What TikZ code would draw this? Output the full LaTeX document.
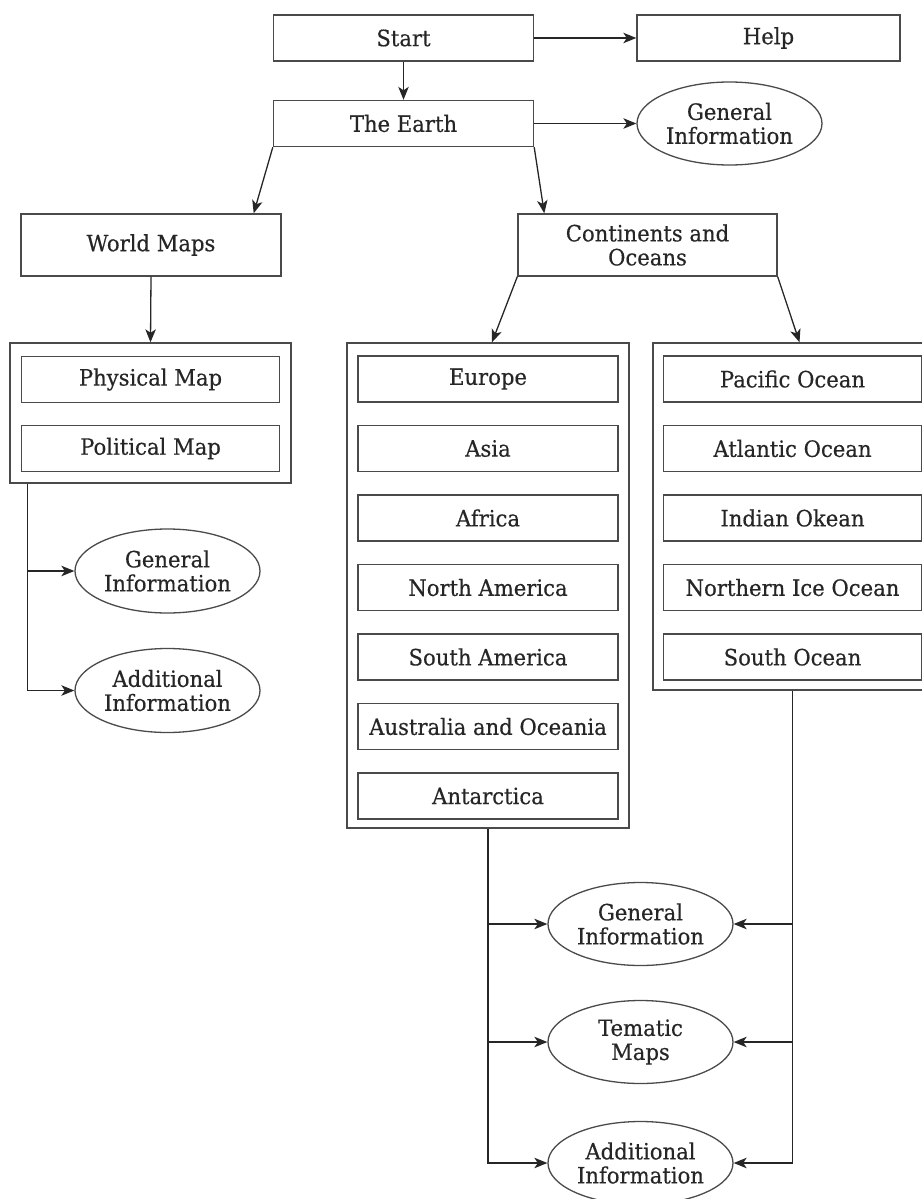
\documentclass[tikz,border=0pt]{standalone}
\usepackage{fontspec}
\setmainfont{DejaVu Serif}[FakeStretch=0.94,FakeBold=0.4]
\usetikzlibrary{arrows.meta,shapes.geometric,calc}
\definecolor{ink}{HTML}{262626}
\definecolor{edge}{HTML}{4A4A4A}
\begin{document}
\begin{tikzpicture}[x=1pt,y=-1pt,
  every node/.style={font=\fontsize{22.5}{24}\selectfont, text=ink, inner sep=0pt},
  box/.style={draw=edge, line width=1.4pt, rectangle, minimum width=260pt, minimum height=46pt, align=center},
  tallbox/.style={box, minimum height=62pt},
  grp/.style={draw=edge, line width=1.4pt, rectangle},
  oval/.style={draw=edge, line width=1.3pt, ellipse, minimum width=185pt, minimum height=83pt, align=center},
  arr/.style={draw=ink, line width=1.3pt, -{Stealth[length=13pt,width=10.5pt,inset=3.5pt]}}]
\useasboundingbox (0,0) rectangle (921,1199);

% top
\node[box] (start) at (403.5,38) {Start};
\node[box, minimum width=263pt] (help) at (768.5,38) {Help};
\node[box] (earth) at (403.5,123.5) {The Earth};
\node[oval] (gi0) at (729.5,123.5) {General\\Information};

\node[tallbox] (world) at (151,245) {World Maps};
\node[tallbox, minimum width=259pt] (cont) at (647.5,245) {Continents and\\Oceans};

% left group
\node[grp, minimum width=281pt, minimum height=140pt] (lgrp) at (150.5,413) {};
\node[box, minimum width=258pt] (phys) at (150.5,379.5) {Physical Map};
\node[box, minimum width=258pt] (polit) at (150.5,448.5) {Political Map};

\node[oval, minimum height=84pt] (gi1) at (167.5,571) {General\\Information};
\node[oval, minimum height=84pt] (ai1) at (167.5,690.5) {Additional\\Information};

% continents group
\node[grp, minimum width=282pt, minimum height=485pt] (cgrp) at (488,585.5) {};
\node[box] (eu) at (488,379) {Europe};
\node[box] (as) at (488,448.5) {Asia};
\node[box] (af) at (488,518) {Africa};
\node[box] (na) at (488,587.5) {North America};
\node[box] (sa) at (488,657) {South America};
\node[box] (au) at (488,726.5) {Australia and Oceania};
\node[box] (an) at (488,796) {Antarctica};

% oceans group
\node[grp, minimum width=279pt, minimum height=347pt] (ogrp) at (792.5,516.5) {};
\node[box, minimum width=258pt] (po) at (792.5,379) {Pacific Ocean};
\node[box, minimum width=258pt] (ao) at (792.5,448.5) {Atlantic Ocean};
\node[box, minimum width=258pt] (io) at (792.5,518) {Indian Okean};
\node[box, minimum width=258pt] (no) at (792.5,587.5) {Northern Ice Ocean};
\node[box, minimum width=258pt] (so) at (792.5,657) {South Ocean};

% bottom ovals
\node[oval] (gi2) at (640.5,924) {General\\Information};
\node[oval] (tm) at (640.5,1042) {Tematic\\Maps};
\node[oval] (ai2) at (640.5,1163) {Additional\\Information};

% connectors
\draw[arr] (start.east) -- (help.west);
\draw[arr] (start.south) -- (earth.north);
\draw[arr] (earth.east) -- (gi0.west);
\draw[arr] (earth.south west) -- ([xshift=-28pt]world.north east);
\draw[arr] (earth.south east) -- ([xshift=27pt]cont.north west);
\draw[arr] (world.south) -- (lgrp.north);
\draw[arr] (cont.south west) -- ([xshift=4pt]cgrp.north);
\draw[arr] (cont.south east) -- ([xshift=7pt]ogrp.north);

\coordinate (lb) at ([xshift=18pt]lgrp.south west);
\draw[arr] (lb) |- (ai1.west);
\draw[arr] (gi1.west -| lb) -- (gi1.west);

\draw[arr] (cgrp.south) |- (ai2.west);
\draw[arr] (gi2.west -| cgrp.south) -- (gi2.west);
\draw[arr] (tm.west -| cgrp.south) -- (tm.west);

\draw[arr] (ogrp.south) |- (ai2.east);
\draw[arr] (gi2.east -| ogrp.south) -- (gi2.east);
\draw[arr] (tm.east -| ogrp.south) -- (tm.east);
\end{tikzpicture}
\end{document}
